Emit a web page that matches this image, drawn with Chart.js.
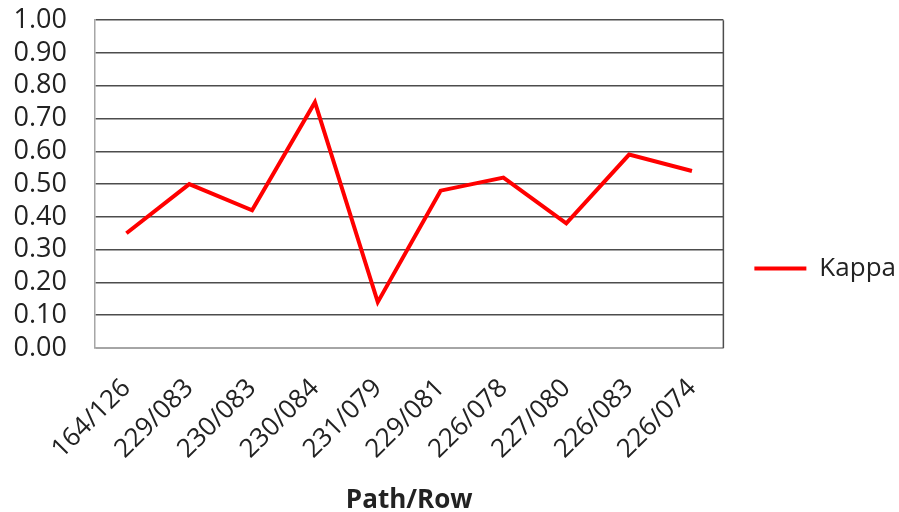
<!DOCTYPE html>
<html>
<head>
<meta charset="utf-8">
<script src="https://cdn.jsdelivr.net/npm/chart.js@4/dist/chart.umd.min.js"></script>
<style>
  html, body { margin: 0; padding: 0; background: #fff; }
  #wrap { width: 899px; height: 512px; }
</style>
</head>
<body>
<div id="wrap"><canvas id="kappa-chart"></canvas></div>
<script>
const pathRows = ['164/126', '229/083', '230/083', '230/084', '231/079', '229/081', '226/078', '227/080', '226/083', '226/074'];
const kappaValues = [0.35, 0.50, 0.42, 0.75, 0.14, 0.48, 0.52, 0.38, 0.59, 0.54];
const yTickStep = 0.1;

const fontFamily = '"Open Sans", "Noto Sans", sans-serif';

// right-hand edge of the plot box
const plotFrame = {
    id: 'plotFrame',
    afterDraw(chart) {
        const { ctx, chartArea } = chart;
        ctx.save();
        ctx.strokeStyle = '#4d4d4d';
        ctx.lineWidth = 1.5;
        ctx.beginPath();
        ctx.moveTo(chartArea.right, chartArea.top);
        ctx.lineTo(chartArea.right, chartArea.bottom);
        ctx.stroke();
        ctx.restore();
    }
};

// nudge the legend box a little right and down
const legendShift = {
    id: 'legendShift',
    afterUpdate(chart) {
        const legend = chart.legend;
        if (!legend) return;
        const dx = 9, dy = 12;
        legend.left += dx;
        legend.right += dx;
        legend.top += dy;
        legend.bottom += dy;
        (legend.legendHitBoxes || []).forEach(box => {
            box.left += dx;
            box.top += dy;
        });
    }
};

const ctx = document.getElementById('kappa-chart').getContext('2d');
const chart = new Chart(ctx, {
    type: 'line',
    data: {
        labels: pathRows,
        datasets: [{
            label: 'Kappa',
            data: kappaValues,
            borderColor: '#ff0000',
            backgroundColor: '#ff0000',
            borderWidth: 4,
            pointRadius: 0,
            tension: 0,
            fill: false,
        }]
    },
    options: {
        responsive: true,
        maintainAspectRatio: false,
        animation: false,
        layout: {
            padding: { top: 1, left: 6, right: 2, bottom: 0 }
        },
        plugins: {
            legend: {
                position: 'right',
                labels: {
                    usePointStyle: true,
                    pointStyleWidth: 52,
                    pointStyle: 'line',
                    color: '#222',
                    font: { family: fontFamily, size: 26 },
                    padding: 22,
                }
            },
            tooltip: { enabled: false }
        },
        scales: {
            x: {
                offset: true,
                afterFit: scale => { scale.height = 164; },
                grid: { display: false },
                border: { color: '#a6a6a6', width: 1.5 },
                ticks: {
                    autoSkip: false,
                    color: '#222',
                    font: { family: fontFamily, size: 26 },
                    minRotation: 45,
                    maxRotation: 45,
                    padding: 17,
                },
                title: {
                    display: true,
                    text: 'Path/Row',
                    color: '#222',
                    font: { family: fontFamily, size: 26, weight: 'bold' },
                    padding: { top: 0, bottom: -4 }
                }
            },
            y: {
                min: 0,
                max: 1,
                afterFit: scale => { scale.width = 89; },
                grid: {
                    color: '#4d4d4d',
                    lineWidth: 1.5,
                    drawTicks: true,
                    tickLength: 24,
                    tickColor: 'rgba(0,0,0,0)'
                },
                border: { color: '#a6a6a6', width: 1.5 },
                ticks: {
                    autoSkip: false,
                    stepSize: yTickStep,
                    color: '#222',
                    font: { family: fontFamily, size: 27 },
                    padding: 4,
                    callback: v => v.toFixed(2)
                }
            }
        }
    },
    plugins: [plotFrame, legendShift]
});
</script>
</body>
</html>
